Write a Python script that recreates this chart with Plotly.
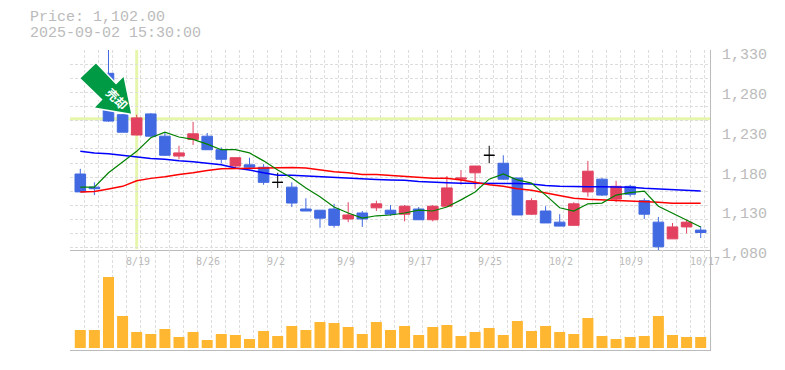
import plotly.graph_objects as go

# ---------- data ----------
opens = [1175.5,1159,1302,1250,1224.5,1251,1223,1198,1219,1223,1206,1185.5,1187,1184,1165,1159,1131.5,1130,1131.5,1119,1126.5,1133,1130,1125,1131.5,1118,1135,1169,1177,1199,1189,1170.5,1125,1129,1115,1111,1153,1169,1144,1160,1142,1115,1094,1109,1105]
highs = [1182,1165,1345,1251,1250,1252,1227,1211,1241,1227,1209,1196,1196,1188,1177,1165,1145,1130,1138,1140,1129,1142,1136.5,1136.5,1134,1136.5,1173,1180.5,1185.5,1211,1199,1170.5,1145,1135,1125,1140,1192,1170.5,1167,1162,1145,1121.5,1114,1118,1110]
lows = [1153,1149,1241,1228,1224,1223,1198,1194,1212,1206,1189,1182,1182,1162,1158,1134,1129,1108,1108,1115,1109,1129,1123,1116,1118,1116,1135,1162,1157,1189,1168,1124,1124,1114,1110,1111,1147,1148,1140,1147,1119,1079,1094,1101,1095]
closes = [1153,1157,1242,1228,1246,1223,1199,1202,1226,1206,1194,1196,1184,1165,1165,1139,1129,1120,1111,1124,1119,1138,1125,1135,1118,1135,1158,1170.5,1185.5,1199,1169,1124,1142,1114,1110,1138,1179,1149,1160,1150,1125,1084,1109,1115,1102]
ma_green = [1159,1159,1177,1191,1204,1221,1228,1222,1219,1213,1206,1206,1202,1192,1180.5,1170.5,1158,1147,1134,1126.5,1120,1123,1124,1126.5,1130,1129,1134,1143,1153,1169,1175.5,1168,1164,1149,1133,1129,1138,1139,1149,1152,1154,1135,1126.5,1118,1109]
ma_blue = [1204,1202,1201,1199,1197,1195,1194,1192,1191,1189,1187,1183,1180.5,1177,1174,1174,1173,1172.6,1171,1170,1169,1168.6,1168,1167.6,1166,1165,1164.5,1164,1164,1164,1164,1163.5,1163,1161,1160,1159.5,1159.5,1159.5,1159.5,1159,1157.5,1156.6,1155,1154,1154]
ma_red = [1153,1153.5,1156.6,1160,1167,1170,1172,1175,1177,1180,1182,1182.4,1183,1183.6,1183.6,1183.6,1183,1180.5,1178.4,1177,1175,1175,1173.6,1172,1170.5,1170,1170,1168,1165,1162,1160,1157,1155,1151.6,1148,1145,1143.7,1143,1142,1142,1141,1140,1138.7,1138.7,1138.7]
volumes = [18,18,71,32,16,14,19,11,16,8,14,13,9,17,12,22,18,26,25,21,14,26,18,22,13,21,23,12,16,20,13,27,17,22,16,14,30,12,9,11,12,32,13,11,11]
tick_index = [4,9,14,19,24,29,34,39,44]
tick_dates = ["8/19","8/26","9/2","9/9","9/17","9/25","10/2","10/9","10/17"]
price_ticks = [1080,1130,1180,1230,1280,1330]
current_price = "1,102.00"
current_time = "2025-09-02 15:30:00"
signal_price = 1245
signal_index = 4

UP, DOWN, GRID, TXT, AX = "#e2425f", "#4169e1", "#dddddd", "#bbbbbb", "#bbbbbb"
def px(x): return (x-70)/640
def py(y): return (350-y)/300
idx = list(range(len(opens)))
flat = [i for i in idx if opens[i] == closes[i]]
solid = [i for i in idx if opens[i] != closes[i]]
XR = [-0.73, 44.66]
PR = [1080, 1331.3]

fig = go.Figure()
fig.add_trace(go.Bar(x=idx, y=volumes, width=0.78, marker=dict(color="#ffb732", line=dict(width=0)), xaxis="x2", yaxis="y2"))
fig.add_trace(go.Candlestick(x=solid, open=[opens[i] for i in solid], high=[highs[i] for i in solid],
    low=[lows[i] for i in solid], close=[closes[i] for i in solid],
    increasing=dict(line=dict(color=UP, width=1), fillcolor=UP),
    decreasing=dict(line=dict(color=DOWN, width=1), fillcolor=DOWN), whiskerwidth=0))
fig.add_trace(go.Candlestick(x=flat, open=[opens[i] for i in flat], high=[highs[i] for i in flat],
    low=[lows[i] for i in flat], close=[closes[i] for i in flat],
    increasing=dict(line=dict(color="#000000", width=1), fillcolor="#000000"),
    decreasing=dict(line=dict(color="#000000", width=1), fillcolor="#000000"), whiskerwidth=0))
for vals, col, w in [(ma_blue,"#0000ff",1.5),(ma_red,"#ff0000",1.5),(ma_green,"#008000",1.2)]:
    fig.add_trace(go.Scatter(x=idx, y=vals, mode="lines", line=dict(color=col, width=w), cliponaxis=True))
# invisible trace carries the price labels axis
fig.add_trace(go.Scatter(x=idx, y=closes, mode="lines", line=dict(width=0), opacity=0, yaxis="y3"))

arrow = [(96,62.5),(116,83.5),(124,75.5),(132,114.5),(93.5,108),(101.5,99.5),(79.5,78.3)]
path = "M " + " L ".join(f"{px(a):.4f} {py(b):.4f}" for a,b in arrow) + " Z"

shapes = [
    dict(type="line", xref="x", yref="paper", x0=signal_index, x1=signal_index, y0=py(249), y1=py(50),
         line=dict(color="#e6f7ab", width=3), layer="below"),
    dict(type="line", xref="paper", yref="y", x0=0, x1=1, y0=signal_price, y1=signal_price,
         line=dict(color="#e6f7ab", width=3), layer="below"),
    dict(type="path", xref="paper", yref="paper", path=path, fillcolor="#009a44",
         line=dict(color="#ffffff", width=1.5), layer="above"),
]
ann = [dict(xref="x2", x=i, xshift=-11, xanchor="left", yref="paper", y=py(261), yanchor="middle", text=t,
            showarrow=False, borderpad=0, borderwidth=0, font=dict(family="DejaVu Sans Mono", size=10, color=TXT))
       for i,t in zip(tick_index,tick_dates)]
for y,t in [(18,"Price: "+current_price),(33,current_time)]:
    ann.append(dict(xref="paper", yref="paper", x=px(30), y=py(y), xanchor="left", yanchor="middle", text=t,
        showarrow=False, borderpad=0, borderwidth=0, font=dict(family="Liberation Mono", size=15, color=TXT)))
ann.append(dict(xref="paper", yref="paper", x=px(103), y=py(84.5), text="売却", textangle=45, showarrow=False,
    borderpad=0, borderwidth=0, font=dict(family="Noto Sans CJK JP", size=12, color="#ffffff", weight="bold")))

grid = dict(showgrid=True, gridcolor=GRID, gridwidth=1, griddash="3px,2px", zeroline=False)
fig.update_layout(
    width=785, height=370, margin=dict(l=70, r=75, t=50, b=20, pad=0), autosize=False,
    paper_bgcolor="white", plot_bgcolor="white", showlegend=False, hovermode=False,
    boxgap=0.25, boxgroupgap=0, boxmode="overlay", bargap=0.22, shapes=shapes, annotations=ann,
    xaxis=dict(domain=[0,1], range=XR, anchor="y", tick0=-0.695, dtick=1, showticklabels=False, ticks="", automargin=False,
               rangeslider=dict(visible=False), showline=True, linecolor=AX, linewidth=1, **grid),
    yaxis=dict(domain=[1/3,1], range=PR, anchor="x", side="right", tick0=1083.4, dtick=17.65, showticklabels=False,
               automargin=False, ticks="", showline=True, linecolor=AX, linewidth=1, **grid),
    yaxis3=dict(overlaying="y", range=PR, anchor="x", side="right", tickmode="array", tickvals=price_ticks,
                ticktext=[f"{v:,}" for v in price_ticks], showgrid=False, zeroline=False, ticks="", ticklen=0,
                automargin=False, ticklabelshift=3, ticklabelstandoff=11, showline=False,
                tickfont=dict(family="Liberation Mono", size=15, color=TXT)),
    xaxis2=dict(domain=[0,1], range=XR, anchor="y2", tick0=-0.695, dtick=1, showticklabels=False, ticks="", automargin=False,
                showline=True, linecolor=AX, linewidth=1, **grid),
    yaxis2=dict(domain=[0,1/3], range=[-2,98], anchor="x2", side="right", showticklabels=False, showgrid=False,
                automargin=False, zeroline=False, ticks="", showline=True, linecolor=AX, linewidth=1),
)
fig.write_html("out.html", post_script="document.body.style.margin='0';document.documentElement.style.overflow='hidden';",
               config={"displayModeBar": False})
